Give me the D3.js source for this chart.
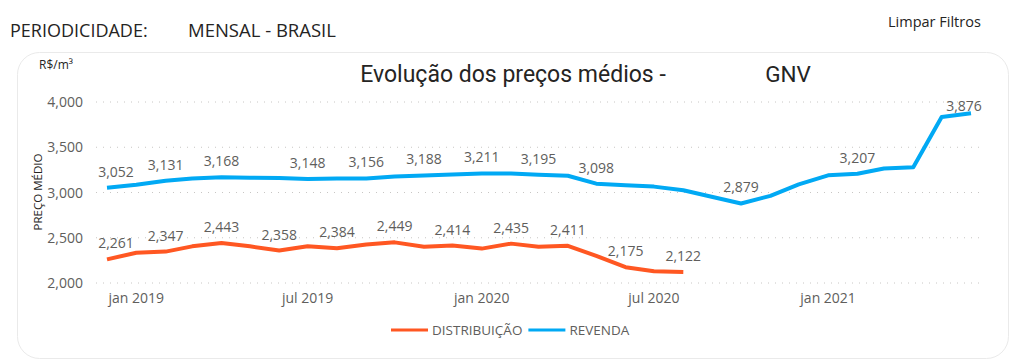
<!DOCTYPE html>
<html>
<head>
<meta charset="utf-8">
<script src="https://cdn.jsdelivr.net/npm/d3@7"></script>
<style>
  body { margin: 0; background: #fff; font-family: 'Open Sans', 'Noto Sans', sans-serif; }
  svg { display: block; }
</style>
</head>
<body>
<svg id="chart" width="1021" height="363"></svg>
<script>
// ------------------
// Data
// ------------------
const months = d3.timeMonths(new Date(2018, 11, 1), new Date(2021, 6, 1)) // dez 2018 .. jun 2021
const distribuicao = [2261, 2335, 2347, 2405, 2443, 2405, 2358, 2405, 2384, 2425, 2449,
  2400, 2414, 2380, 2435, 2400, 2411, 2300, 2175, 2130, 2122]
const revenda = [3052, 3085, 3131, 3155, 3168, 3163, 3160, 3148, 3155, 3156, 3178,
  3188, 3200, 3211, 3210, 3195, 3185, 3098, 3080, 3065, 3025, 2950, 2879, 2963,
  3090, 3190, 3207, 3265, 3280, 3835, 3876]
// which points carry a data label
const distLabels = [0, 2, 4, 6, 8, 10, 12, 14, 16, 18, 20]
const revLabels = [0, 2, 4, 7, 9, 11, 13, 15, 17, 22, 26, 30]
const yTicks = [2000, 2500, 3000, 3500, 4000]
const xTicks = [new Date(2019, 0, 1), new Date(2019, 6, 1), new Date(2020, 0, 1), new Date(2020, 6, 1), new Date(2021, 0, 1)]
const monthNames = ['jan', 'fev', 'mar', 'abr', 'mai', 'jun', 'jul', 'ago', 'set', 'out', 'nov', 'dez']

const series = [
  { name: 'DISTRIBUIÇÃO', values: distribuicao, labels: distLabels, color: '#FF5722' },
  { name: 'REVENDA', values: revenda, labels: revLabels, color: '#01A9F4' }
]

const svg = d3.select('#chart')
const grey = '#605E5C'

// ------------------
// Header + card
// ------------------
svg.append('text').attr('x', 10).attr('y', 37)
  .attr('font-size', 18).attr('fill', '#252423').text('PERIODICIDADE:')
svg.append('text').attr('x', 188).attr('y', 37)
  .attr('font-size', 18.5).attr('fill', '#252423').text('MENSAL - BRASIL')
svg.append('text').attr('x', 888).attr('y', 27)
  .attr('font-size', 14.5).attr('fill', '#252423').text('Limpar Filtros')

svg.append('rect')
  .attr('x', 17.5).attr('y', 52.5).attr('width', 991).attr('height', 306)
  .attr('rx', 22).attr('fill', '#fff').attr('stroke', '#EAEAEA')

svg.append('text').attr('x', 513).attr('y', 82).attr('text-anchor', 'middle')
  .attr('font-family', 'Roboto, sans-serif')
  .attr('font-size', 23).attr('fill', '#252423')
  .text('Evolução dos preços médios -')
svg.append('text').attr('x', 788).attr('y', 82).attr('text-anchor', 'middle')
  .attr('font-family', 'Roboto, sans-serif')
  .attr('font-size', 22.5).attr('fill', '#252423')
  .text('GNV')

svg.append('text').attr('x', 39).attr('y', 69)
  .attr('font-size', 12).attr('fill', '#252423').text('R$/m³')

svg.append('text')
  .attr('transform', 'translate(42,192) rotate(-90)')
  .attr('text-anchor', 'middle').attr('font-size', 11.5).attr('fill', '#252423')
  .text('PREÇO MÉDIO')

// ------------------
// Scales
// ------------------
const x = d3.scaleTime()
  .domain([months[0], months[months.length - 1]])
  .range([107, 971])
const y = d3.scaleLinear().domain([2000, 4000]).range([283, 102])

// grid
svg.append('g').selectAll('line').data(yTicks).join('line')
  .attr('x1', 96).attr('x2', 984)
  .attr('y1', d => y(d)).attr('y2', d => y(d))
  .attr('stroke', '#C8C6C4').attr('stroke-dasharray', '1 6')

svg.append('g').selectAll('text').data(yTicks).join('text')
  .attr('x', 83).attr('y', d => y(d) + 5).attr('text-anchor', 'end')
  .attr('font-size', 14).attr('fill', grey)
  .text(d => d3.format(',')(d))

svg.append('g').selectAll('text').data(xTicks).join('text')
  .attr('x', d => x(d)).attr('y', 303).attr('text-anchor', 'middle')
  .attr('font-size', 14).attr('fill', grey)
  .text(d => `${monthNames[d.getMonth()]} ${d.getFullYear()}`)

// ------------------
// Lines + labels
// ------------------
const line = d3.line()
  .x((d, i) => x(months[i]))
  .y(d => y(d))

series.forEach(s => {
  svg.append('path')
    .datum(s.values)
    .attr('d', line)
    .attr('fill', 'none')
    .attr('stroke', s.color)
    .attr('stroke-width', 4)
    .attr('stroke-linejoin', 'round')

  svg.append('g').selectAll('text').data(s.labels).join('text')
    .attr('x', i => {
      let dx = 0
      if (i === 0) dx = 9
      if (i === 30) dx = -7 // last label pulled inside the plot
      return x(months[i]) + dx
    })
    .attr('y', i => y(s.values[i]) - (i === 30 ? 2 : 11))
    .attr('text-anchor', 'middle')
    .attr('font-size', 14).attr('fill', grey)
    .text(i => d3.format(',')(s.values[i]))
})

// ------------------
// Legend
// ------------------
const legend = svg.append('g').attr('transform', 'translate(391,330)')
let lx = 0
series.forEach(s => {
  legend.append('line').attr('x1', lx).attr('x2', lx + 37)
    .attr('stroke', s.color).attr('stroke-width', 3)
  const t = legend.append('text').attr('x', lx + 41).attr('y', 5)
    .attr('font-size', 13.5).attr('fill', grey).text(s.name)
  lx += 41 + t.node().getComputedTextLength() + 6
})
</script>
</body>
</html>
